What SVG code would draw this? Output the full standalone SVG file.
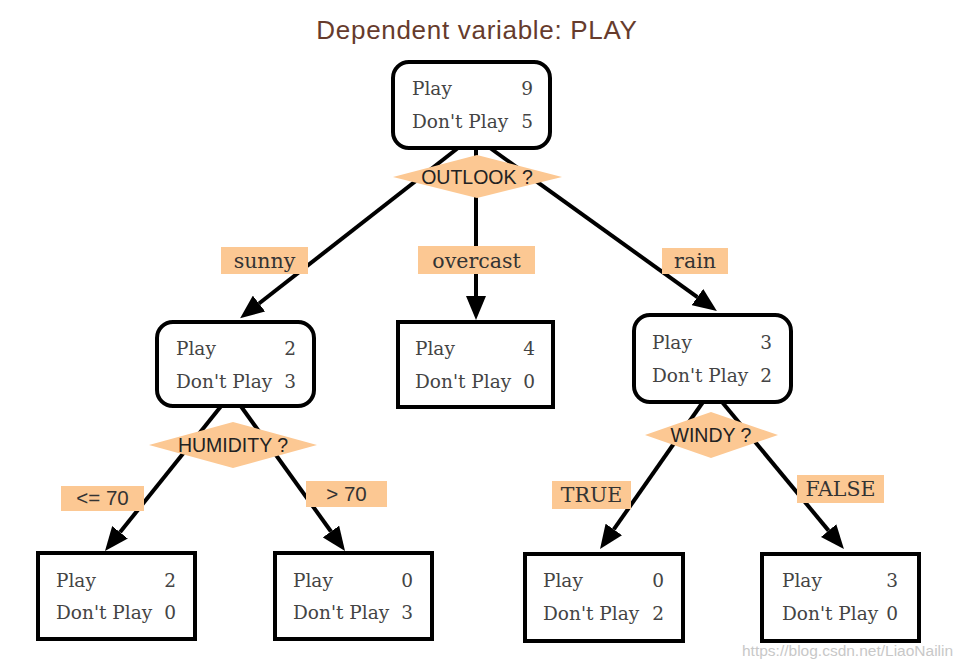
<svg xmlns="http://www.w3.org/2000/svg" width="967" height="671" viewBox="0 0 967 671">
<style>
.title{font-family:"Liberation Sans",Arial,sans-serif;font-size:26px;fill:#663b2c;letter-spacing:0.7px}
.box{fill:#fff;stroke:#000;stroke-width:4}
.t{font-family:"DejaVu Serif","Liberation Serif",serif;font-size:18.5px;fill:#444}
.n{text-anchor:end}
.dia{fill:#fcc893}
.dt{font-family:"Liberation Sans",Arial,sans-serif;font-size:19.5px;fill:#222;text-anchor:middle}
.edge{stroke:#000;stroke-width:4;fill:none;marker-end:url(#ah)}
.lab{fill:#fcc893}
.lt{font-family:"DejaVu Serif","Liberation Serif",serif;font-size:20.5px;fill:#333;text-anchor:middle}
.ls{font-family:"Liberation Sans",Arial,sans-serif;font-size:20.5px;fill:#333;text-anchor:middle}
.wm{font-family:"Liberation Sans",Arial,sans-serif;font-size:15.5px;fill:#c8c8c8}
</style>
<defs>
<marker id="ah" viewBox="0 -10 24 20" refX="0" refY="0" markerWidth="24" markerHeight="20" markerUnits="userSpaceOnUse" orient="auto">
<path d="M0,-10 L24,0 L0,10 z" fill="#000"/>
</marker>
</defs>
<rect width="967" height="671" fill="#fff"/>
<text class="title" x="477" y="39" text-anchor="middle">Dependent variable: PLAY</text>

<g id="connectors">
<line class="edge" x1="458" y1="148" x2="259" y2="303.5"/>
<line class="edge" x1="476" y1="148" x2="476" y2="296"/>
<line class="edge" x1="490" y1="148" x2="697.4" y2="297.1"/>
<line class="edge" x1="222" y1="405" x2="120" y2="532.3"/>
<line class="edge" x1="240" y1="405" x2="331" y2="531.5"/>
<line class="edge" x1="703" y1="402" x2="613.8" y2="529.4"/>
<line class="edge" x1="722" y1="402" x2="828.6" y2="530.6"/>
<g id="label-sunny"><rect class="lab" x="221" y="247" width="87" height="27"/><text class="lt" x="264.5" y="268">sunny</text></g>
<g id="label-overcast"><rect class="lab" x="418" y="246" width="117" height="28"/><text class="lt" x="476.5" y="268">overcast</text></g>
<g id="label-rain"><rect class="lab" x="662" y="248" width="66" height="26"/><text class="lt" x="695" y="268">rain</text></g>
<g id="label-le70"><rect class="lab" x="61" y="486" width="83" height="25"/><text class="ls" x="102.5" y="505">&lt;= 70</text></g>
<g id="label-gt70"><rect class="lab" x="306" y="481" width="81" height="26"/><text class="ls" x="346.5" y="501">&gt; 70</text></g>
<g id="label-true"><rect class="lab" x="552" y="481" width="79" height="28"/><text class="lt" x="591.5" y="502">TRUE</text></g>
<g id="label-false"><rect class="lab" x="797" y="475" width="87" height="28"/><text class="lt" x="840.5" y="496">FALSE</text></g>
</g>

<g id="root">
<rect class="box" x="393" y="62" width="157" height="86" rx="16"/>
<text class="t" x="412" y="95">Play</text><text class="t n" x="533" y="95">9</text>
<text class="t" x="412" y="128">Don't Play</text><text class="t n" x="533" y="128">5</text>
<polygon class="dia" points="393,177 477,155 562,177 477,198"/>
<text class="dt" x="477" y="184">OUTLOOK ?</text>
</g>

<g id="sunny-node">
<rect class="box" x="157" y="322" width="157" height="84" rx="16"/>
<text class="t" x="176" y="355">Play</text><text class="t n" x="296" y="355">2</text>
<text class="t" x="176" y="388">Don't Play</text><text class="t n" x="296" y="388">3</text>
<polygon class="dia" points="149,445 233,422 317,445 233,468"/>
<text class="dt" x="233" y="452">HUMIDITY ?</text>
</g>

<g id="overcast-node">
<rect class="box" x="398" y="322" width="155" height="85"/>
<text class="t" x="415" y="355">Play</text><text class="t n" x="535" y="355">4</text>
<text class="t" x="415" y="388">Don't Play</text><text class="t n" x="535" y="388">0</text>
</g>

<g id="rain-node">
<rect class="box" x="634" y="315" width="157" height="87" rx="16"/>
<text class="t" x="652" y="349">Play</text><text class="t n" x="772" y="349">3</text>
<text class="t" x="652" y="382">Don't Play</text><text class="t n" x="772" y="382">2</text>
<polygon class="dia" points="645,435 711,412 778,435 711,458"/>
<text class="dt" x="711" y="442">WINDY ?</text>
</g>

<g id="humidity-le70">
<rect class="box" x="38" y="553" width="157" height="86"/>
<text class="t" x="56" y="587">Play</text><text class="t n" x="176" y="587">2</text>
<text class="t" x="56" y="619">Don't Play</text><text class="t n" x="176" y="619">0</text>
</g>

<g id="humidity-gt70">
<rect class="box" x="275" y="553" width="157" height="86"/>
<text class="t" x="293" y="587">Play</text><text class="t n" x="413" y="587">0</text>
<text class="t" x="293" y="619">Don't Play</text><text class="t n" x="413" y="619">3</text>
</g>

<g id="windy-true">
<rect class="box" x="525" y="554" width="158" height="87"/>
<text class="t" x="543" y="587">Play</text><text class="t n" x="664" y="587">0</text>
<text class="t" x="543" y="620">Don't Play</text><text class="t n" x="664" y="620">2</text>
</g>

<g id="windy-false">
<rect class="box" x="762" y="554" width="157" height="87"/>
<text class="t" x="782" y="587">Play</text><text class="t n" x="898" y="587">3</text>
<text class="t" x="782" y="620">Don't Play</text><text class="t n" x="898" y="620">0</text>
</g>

<text class="wm" x="742" y="656">https://blog.csdn.net/LiaoNailin</text>
</svg>
